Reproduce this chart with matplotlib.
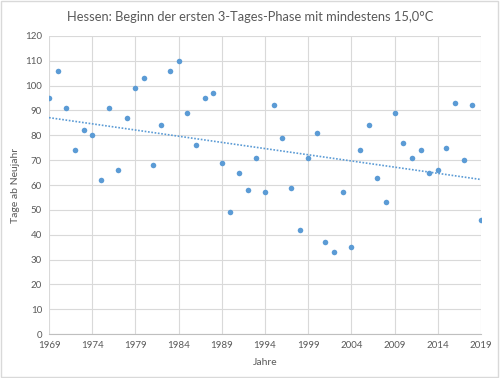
import numpy as np
from matplotlib import pyplot as plt
from matplotlib.patches import Rectangle

years = np.arange(1969, 2020)
days = [95, 106, 91, 74, 82, 80, 62, 91, 66, 87,
        99, 103, 68, 84, 106, 110, 89, 76, 95, 97,
        69, 49, 65, 58, 71, 57, 92, 79, 59, 42,
        71, 81, 37, 33, 57, 35, 74, 84, 63, 53,
        89, 77, 71, 74, 65, 66, 75, 93, 70, 92, 46]
xticks = np.arange(1969, 2020, 5)
yticks = np.arange(0, 121, 10)

plt.rcParams['font.family'] = ['Lato', 'DejaVu Sans']

fig = plt.figure(figsize=(5, 3.78), dpi=100)
ax = fig.add_axes([0.098, 0.116, 0.864, 0.789])

# linear trend like the spreadsheet trendline
k, d = np.polyfit(years, days, 1)
ax.plot(years, k * years + d, linestyle=(0, (1, 1)), color="#5b9bd5", lw=1.2, zorder=2)
ax.scatter(years, days, s=16, color="#5b9bd5", zorder=3, linewidths=0)

ax.set_xlim(1969, 2019)
ax.set_ylim(0, 120)
ax.set_xticks(xticks)
ax.set_yticks(yticks)
ax.grid(True, color="#d9d9d9", lw=0.8)
ax.set_axisbelow(True)
for s in ["top", "right", "left"]:
    ax.spines[s].set_visible(False)
ax.spines["bottom"].set_color("#bfbfbf")
ax.tick_params(length=0, labelsize=7, labelcolor="#595959", pad=5)
ax.set_xlabel("Jahre", fontsize=7.5, color="#595959", labelpad=6)
ax.set_ylabel("Tage ab Neujahr", fontsize=7.5, color="#595959", labelpad=4)
fig.suptitle("Hessen: Beginn der ersten 3-Tages-Phase mit mindestens 15,0°C",
             fontsize=9.3, color="#595959", y=0.97)

fig.patches.append(Rectangle((0.002, 0.003), 0.994, 0.994, transform=fig.transFigure,
                             fill=False, edgecolor="#d9d9d9", lw=1))

fig.savefig("out.png", dpi=100)
